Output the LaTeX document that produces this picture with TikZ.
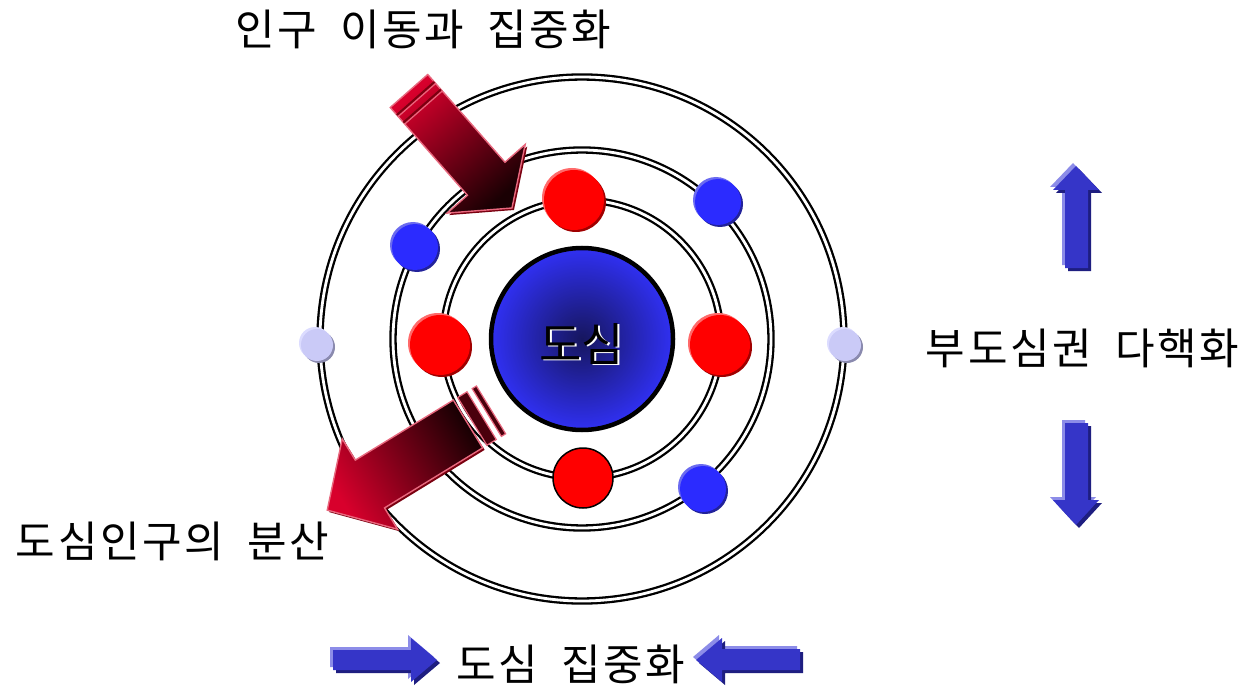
\documentclass[tikz,border=0pt]{standalone}
\usepackage{fontspec}
\newfontfamily\kr{Noto Sans CJK KR}
\newfontfamily\krw{Noto Sans CJK KR}[WordSpace=1.9, LetterSpace=6]
\definecolor{redA}{HTML}{D8002C}
\definecolor{redMid}{HTML}{A8001E}
\definecolor{redDark}{HTML}{1A0003}
\definecolor{pinkE}{HTML}{E8687E}
\definecolor{darkRed}{HTML}{7A0010}
\definecolor{bandRed}{HTML}{4A000C}
\definecolor{dotRed}{HTML}{FF0000}
\definecolor{dotRedHi}{HTML}{FF6A6A}
\definecolor{dotRedSh}{HTML}{A00000}
\definecolor{dotBlue}{HTML}{2B2BFF}
\definecolor{dotBlueHi}{HTML}{6B6BF0}
\definecolor{dotBlueSh}{HTML}{22229A}
\definecolor{lav}{HTML}{CACAF7}
\definecolor{lavHi}{HTML}{DCDCFF}
\definecolor{lavSh}{HTML}{8A8AAE}
\definecolor{arrBlue}{HTML}{3535C8}
\definecolor{arrHi}{HTML}{8C8CE8}
\definecolor{arrSh}{HTML}{1E1E80}
\definecolor{coreIn}{HTML}{16165E}
\definecolor{coreOut}{HTML}{3030F2}
\newcommand\orb[6]{%
  \fill[#6] (#1+2,#2+2) circle (#3pt);
  \fill[#5] (#1-2,#2-2) circle (#3pt);
  \fill[#4] (#1,#2) circle (#3pt);}
\newcommand\blockarrow[1]{%
  \fill[arrHi,shift={(-3,-3)}] #1;
  \fill[arrSh,shift={(3,3)}] #1;
  \fill[arrBlue] #1;}
\tikzset{
  ring/.style={draw=black, double=white, line width=2.3pt, double distance=2.8pt},
  lab/.style={inner sep=0pt, font=\krw\fontsize{43}{48}\selectfont},
  redarrow/.style={draw=pinkE, line width=1.4pt, line join=miter},
}
\begin{document}
\begin{tikzpicture}[x=1pt,y=-1pt]
\useasboundingbox (0,0) rectangle (1245,687);
\fill[white] (0,0) rectangle (1245,687);

% rings
\draw[ring] (582,339) circle (262pt);
\draw[ring] (582,339) circle (189pt);
\draw[ring] (582,339) circle (139pt);

% dots
\orb{574}{200}{30}{dotRed}{dotRedHi}{dotRedSh}
\orb{440}{345}{30}{dotRed}{dotRedHi}{dotRedSh}
\orb{720}{345}{30}{dotRed}{dotRedHi}{dotRedSh}
\filldraw[fill=dotRed, draw=black, line width=1.5pt] (583,478) circle (30pt);
\orb{415}{247}{23}{dotBlue}{dotBlueHi}{dotBlueSh}
\orb{718}{202}{23}{dotBlue}{dotBlueHi}{dotBlueSh}
\orb{703}{489}{23}{dotBlue}{dotBlueHi}{dotBlueSh}
\orb{317}{345}{16}{lav}{lavHi}{lavSh}
\orb{845}{345}{16}{lav}{lavHi}{lavSh}

% core
\shadedraw[draw=black, line width=4.5pt, inner color=coreIn, outer color=coreOut] (582,339) circle (91pt);
\node[inner sep=0pt, text=white, font=\kr\fontsize{46}{52}\selectfont] (coreShadow) at (583.5,345.5) {도심};
\node[inner sep=0pt, text=black, font=\kr\fontsize{46}{52}\selectfont] (coreText) at (581.5,344) {도심};

% top red arrow (inward)
\fill[darkRed, shift={(2,2)}] (427.75,74.5) -- (504.97,162.25) -- (525.22,144.43) -- (511.96,208) -- (447.22,213.07) -- (467.47,195.25) -- (390.25,107.5) -- cycle;
\shadedraw[redarrow, top color=redA, middle color=redMid, bottom color=redDark, shading angle=41.3]
  (427.75,74.5) -- (504.97,162.25) -- (525.22,144.43) -- (511.96,208) -- (447.22,213.07) -- (467.47,195.25) -- (390.25,107.5) -- cycle;
\draw[darkRed, line width=2pt] (434.35,82) -- (396.85,115);
\draw[pinkE, line width=1.2pt] (435.7,83.5) -- (398.2,116.5);
\draw[darkRed, line width=2pt] (440.95,89.5) -- (403.45,122.5);
\draw[pinkE, line width=1.2pt] (442.3,91) -- (404.8,124);

% bottom-left red arrow (outward)
\fill[darkRed, shift={(2,2)}] (453.38,400.12) -- (355.28,460.15) -- (342.23,438.82) -- (327.25,510.13) -- (397.57,529.24) -- (384.52,507.91) -- (482.62,447.88) -- cycle;
\shadedraw[redarrow, top color=redA, middle color=redMid, bottom color=redDark, shading angle=121.5]
  (453.38,400.12) -- (355.28,460.15) -- (342.23,438.82) -- (327.25,510.13) -- (397.57,529.24) -- (384.52,507.91) -- (482.62,447.88) -- cycle;
\filldraw[fill=bandRed, draw=pinkE, line width=1.2pt] (457.65,397.51) -- (486.89,445.27) -- (496.27,439.53) -- (467.03,391.77) -- cycle;
\filldraw[fill=bandRed, draw=pinkE, line width=1.2pt] (472.15,388.64) -- (501.39,436.40) -- (505.65,433.79) -- (476.41,386.03) -- cycle;

% blue block arrows
\blockarrow{(1076,166) -- (1099,190) -- (1088,190) -- (1088,268) -- (1065,268) -- (1065,190) -- (1053,190) -- cycle}
\blockarrow{(1065,423) -- (1088,423) -- (1088,500) -- (1099,500) -- (1076,525) -- (1053,500) -- (1065,500) -- cycle}
\blockarrow{(333,650) -- (411,650) -- (411,638) -- (437,660) -- (411,682) -- (411,670) -- (333,670) -- cycle}
\blockarrow{(696,660) -- (722,638) -- (722,649) -- (800,649) -- (800,670) -- (722,670) -- (722,682) -- cycle}

% labels
\node[lab] (topLabel) at (423.5,29.5) {인구 이동과 집중화};
\node[lab] (leftLabel) at (172.5,541) {도심인구의 분산};
\node[lab] (rightLabel) at (1082.5,348) {부도심권 다핵화};
\node[lab] (bottomLabel) at (570.5,664.5) {도심 집중화};
\end{tikzpicture}
\end{document}
